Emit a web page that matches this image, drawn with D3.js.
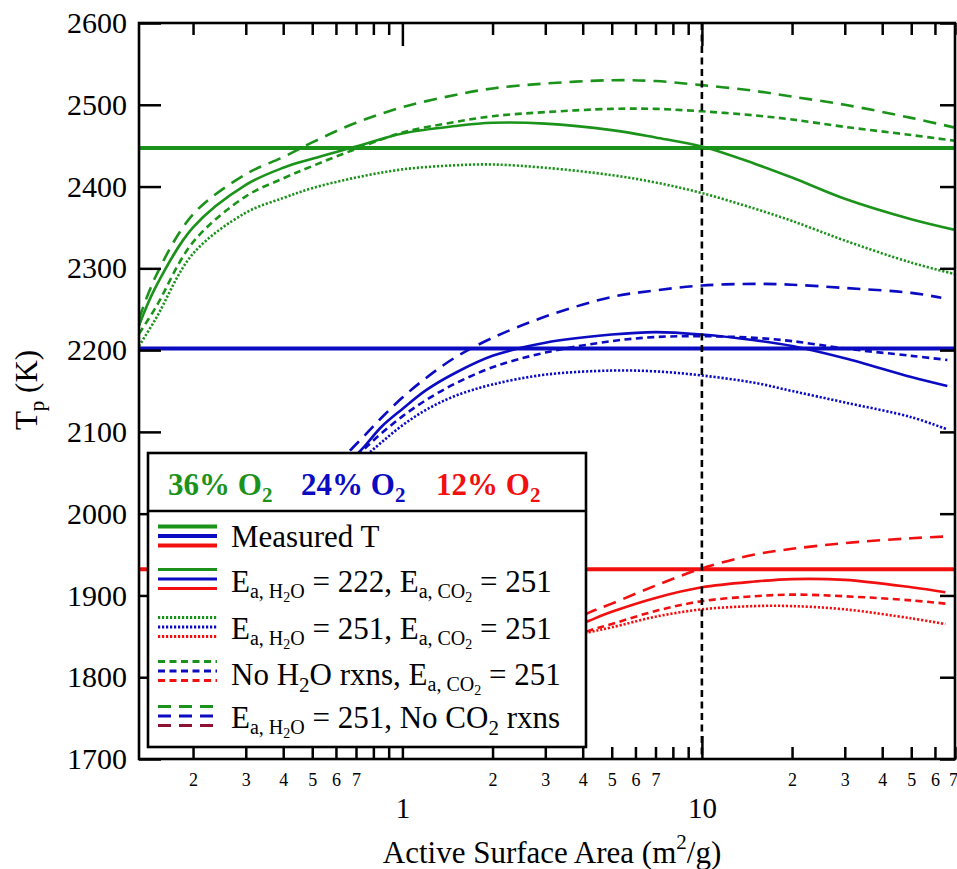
<!DOCTYPE html>
<html>
<head>
<meta charset="utf-8">
<script src="https://cdn.jsdelivr.net/npm/d3@7"></script>
<style>
  body { margin: 0; background: #fff; }
  svg { display: block; }
  text { white-space: pre; }
</style>
</head>
<body>
<svg id="chart" width="957" height="869"></svg>
<script>
// ---- Data: peak particle temperature vs. active surface area ----
// 36% O2
const greenX      = [0.132, 0.15, 0.2, 0.3, 0.4, 0.5, 0.7, 1, 1.5, 2, 3, 5, 7, 10, 15, 20, 30, 50, 70];
const green222    = [2230, 2277, 2350, 2402, 2423, 2434, 2449, 2465, 2474, 2478, 2477, 2469, 2460, 2449, 2428, 2411, 2385, 2360, 2347];
const green251    = [2205, 2238, 2318, 2368, 2386, 2398, 2411, 2421, 2426, 2427, 2423, 2414, 2405, 2392, 2373, 2358, 2334, 2307, 2293];
const greenNoH2O  = [2220, 2252, 2332, 2388, 2410, 2425, 2446, 2466, 2479, 2486, 2491, 2495, 2495, 2492, 2487, 2482, 2473, 2463, 2456];
const greenNoCO2  = [2238, 2290, 2366, 2415, 2436, 2454, 2478, 2497, 2512, 2520, 2526, 2530, 2529, 2524, 2517, 2510, 2500, 2484, 2472];
// 24% O2
const blueX       = [0.66, 0.75, 0.85, 1, 1.2, 1.5, 2, 3, 5, 7, 10, 15, 20, 30, 50, 66];
const blue222     = [2062, 2083, 2106, 2128, 2151, 2172, 2193, 2209, 2219, 2222, 2219, 2212, 2205, 2190, 2167, 2156];
const blue251     = [2054, 2070, 2087, 2108, 2127, 2144, 2158, 2170, 2175, 2174, 2169, 2160, 2150, 2136, 2118, 2103];
const blueNoH2O   = [2060, 2080, 2098, 2119, 2139, 2159, 2179, 2197, 2211, 2216, 2217, 2215, 2211, 2202, 2193, 2188];
const blueNoCO2X  = [0.6, 0.66, 0.75, 0.85, 1, 1.2, 1.5, 2, 3, 5, 7, 10, 15, 20, 30, 50, 63];
const blueNoCO2   = [2058, 2075, 2096, 2117, 2142, 2166, 2191, 2215, 2241, 2265, 2273, 2279, 2281, 2280, 2276, 2270, 2264];
// 12% O2
const redX        = [3.5, 4.2, 5, 7, 10, 15, 20, 30, 50, 65];
const red222      = [1857, 1869, 1880, 1897, 1910, 1917, 1920, 1919, 1910, 1904];
const red251      = [1847, 1855, 1861, 1874, 1883, 1887, 1887, 1883, 1872, 1865];
const redNoH2O    = [1845, 1857, 1865, 1881, 1893, 1899, 1901, 1899, 1894, 1890];
const redNoCO2    = [1866, 1879, 1890, 1912, 1933, 1950, 1957, 1964, 1970, 1972];
// Measured peak temperatures
const measuredT   = { green: 2447, blue: 2202, red: 1932 };
const referenceArea = 10;

// Axis ticks
const yTicks      = [1700, 1800, 1900, 2000, 2100, 2200, 2300, 2400, 2500, 2600];
const xMajor      = [1, 10];
const xMinor      = [0.2, 0.3, 0.4, 0.5, 0.6, 0.7, 0.8, 0.9, 2, 3, 4, 5, 6, 7, 8, 9, 20, 30, 40, 50, 60, 70];
const xMinorLabeled = [0.2, 0.3, 0.4, 0.5, 0.6, 0.7, 2, 3, 4, 5, 6, 7, 20, 30, 40, 50, 60, 70];

// ---- Styles ----
const FONT = "Liberation Serif, Tinos, Times New Roman, DejaVu Serif, serif";
const COLORS = { green: "#1b931b", blue: "#0b0bc2", red: "#f20f0f", darkred: "#8f1030" };
const DASH = { solid: null, dotted: "2.2,1.8", short: "7,4.5", long: "13,8" };

const W = 957, H = 869;
const plot = { left: 139, right: 955, top: 23, bottom: 759 };

const svg = d3.select("#chart").attr("font-family", FONT).style("font-family", FONT);
svg.append("rect").attr("width", W).attr("height", H).attr("fill", "#fff");

const x = d3.scaleLog().domain([0.132, 70]).range([plot.left, plot.right]);
const y = d3.scaleLinear().domain([1700, 2600]).range([plot.bottom, plot.top]);

svg.append("clipPath").attr("id", "plotClip")
  .append("rect")
  .attr("x", plot.left).attr("y", plot.top)
  .attr("width", plot.right - plot.left).attr("height", plot.bottom - plot.top);

const g = svg.append("g").attr("clip-path", "url(#plotClip)");

// Measured temperature lines
[["green", measuredT.green], ["blue", measuredT.blue], ["red", measuredT.red]].forEach(([c, v]) => {
  g.append("line")
    .attr("x1", plot.left).attr("x2", plot.right)
    .attr("y1", y(v)).attr("y2", y(v))
    .attr("stroke", COLORS[c]).attr("stroke-width", 4);
});

// Model curves
const line = d3.line().x(d => x(d[0])).y(d => y(d[1])).curve(d3.curveCatmullRom.alpha(0.5));
const series = [
  { xs: greenX, ys: green222,   color: COLORS.green, dash: DASH.solid },
  { xs: greenX, ys: green251,   color: COLORS.green, dash: DASH.dotted },
  { xs: greenX, ys: greenNoH2O, color: COLORS.green, dash: DASH.short },
  { xs: greenX, ys: greenNoCO2, color: COLORS.green, dash: DASH.long },
  { xs: blueX, ys: blue222,     color: COLORS.blue,  dash: DASH.solid },
  { xs: blueX, ys: blue251,     color: COLORS.blue,  dash: DASH.dotted },
  { xs: blueX, ys: blueNoH2O,   color: COLORS.blue,  dash: DASH.short },
  { xs: blueNoCO2X, ys: blueNoCO2, color: COLORS.blue, dash: DASH.long },
  { xs: redX, ys: red222,       color: COLORS.red,   dash: DASH.solid },
  { xs: redX, ys: red251,       color: COLORS.red,   dash: DASH.dotted },
  { xs: redX, ys: redNoH2O,     color: COLORS.red,   dash: DASH.short },
  { xs: redX, ys: redNoCO2,     color: COLORS.red,   dash: DASH.long }
];
series.forEach(s => {
  g.append("path")
    .datum(s.xs.map((v, i) => [v, s.ys[i]]))
    .attr("d", line)
    .attr("fill", "none")
    .attr("stroke", s.color)
    .attr("stroke-width", 2.6)
    .attr("stroke-dasharray", s.dash);
});

// Vertical reference line at 10 m^2/g
g.append("line")
  .attr("x1", x(referenceArea)).attr("x2", x(referenceArea))
  .attr("y1", plot.top).attr("y2", plot.bottom)
  .attr("stroke", "#000").attr("stroke-width", 2.6)
  .attr("stroke-dasharray", "7,4.5");

// ---- Axes ----
function styleAxis(sel) {
  sel.attr("font-family", FONT);
  sel.select(".domain").remove();
  sel.selectAll(".tick line").attr("stroke", "#000").attr("stroke-width", 2.5);
  sel.selectAll("text").attr("fill", "#000").attr("font-family", FONT).style("font-family", FONT);
}
const leadDigit = d => xMinorLabeled.includes(d) ? String(Math.round(d / Math.pow(10, Math.floor(Math.log10(d) + 1e-9)))) : "";

svg.append("g").attr("transform", `translate(0,${plot.bottom})`)
  .call(d3.axisBottom(x).tickValues(xMinor).tickSize(-12).tickPadding(14).tickFormat(leadDigit))
  .call(styleAxis)
  .selectAll("text").style("font-size", "18px")
  .attr("dx", d => d === 70 ? -2 : 0);
svg.append("g").attr("transform", `translate(0,${plot.bottom})`)
  .call(d3.axisBottom(x).tickValues(xMajor).tickSize(-23).tickPadding(38).tickFormat(d3.format("d")))
  .call(styleAxis)
  .selectAll("text").style("font-size", "29px");
svg.append("g").attr("transform", `translate(0,${plot.top})`)
  .call(d3.axisTop(x).tickValues(xMinor).tickSize(-12).tickFormat(""))
  .call(styleAxis);
svg.append("g").attr("transform", `translate(0,${plot.top})`)
  .call(d3.axisTop(x).tickValues(xMajor).tickSize(-23).tickFormat(""))
  .call(styleAxis);
svg.append("g").attr("transform", `translate(${plot.left},0)`)
  .call(d3.axisLeft(y).tickValues(yTicks).tickSize(-22).tickPadding(12).tickFormat(d3.format("d")))
  .call(styleAxis)
  .selectAll("text").style("font-size", "30px");
svg.append("g").attr("transform", `translate(${plot.right},0)`)
  .call(d3.axisRight(y).tickValues(yTicks).tickSize(-15).tickFormat(""))
  .call(styleAxis);

// Frame
svg.append("rect")
  .attr("x", plot.left).attr("y", plot.top)
  .attr("width", plot.right - plot.left).attr("height", plot.bottom - plot.top)
  .attr("fill", "none").attr("stroke", "#000").attr("stroke-width", 2.6);

// Text with sub/superscripts: parts = [text, size, offset below baseline]
function rich(parent, px, py, parts, attrs = {}) {
  const t = parent.append("text").attr("x", px).attr("y", py)
    .attr("font-family", FONT).style("font-family", FONT);
  Object.entries(attrs).forEach(([k, v]) => t.attr(k, v));
  let prev = 0;
  parts.forEach(([txt, size, off]) => {
    t.append("tspan").attr("font-size", size).attr("dy", off - prev).text(txt);
    prev = off;
  });
  return t;
}

// Axis titles
rich(svg, 0, 0, [["T", 31, 0], ["p", 21, 7], [" (K)", 31, 0]],
  { "text-anchor": "middle", transform: "translate(37,390) rotate(-90)" });
rich(svg, 552, 863, [["Active Surface Area (m", 31, 0], ["2", 21, -14], ["/g)", 31, 0]],
  { "text-anchor": "middle" });

// ---- Legend ----
const lg = svg.append("g");
const box = { x: 148, y: 453, w: 438, h: 294, div: 511 };
lg.append("rect").attr("x", box.x).attr("y", box.y).attr("width", box.w).attr("height", box.h)
  .attr("fill", "#fff").attr("stroke", "#000").attr("stroke-width", 2.6);
lg.append("line").attr("x1", box.x).attr("x2", box.x + box.w).attr("y1", box.div).attr("y2", box.div)
  .attr("stroke", "#000").attr("stroke-width", 2.6);

const headers = [["36% O", COLORS.green, 168], ["24% O", COLORS.blue, 301], ["12% O", COLORS.red, 436]];
headers.forEach(([label, c, hx]) => {
  rich(lg, hx, 495, [[label, 31, 0], ["2", 21, 7]], { fill: c, "font-weight": "bold" });
});

const legendRows = [
  { y: 536, dash: DASH.solid,  width: 4,   colors: [COLORS.green, COLORS.blue, COLORS.red],
    parts: [["Measured T", 31, 0]], base: 547 },
  { y: 579, dash: DASH.solid,  width: 3,   colors: [COLORS.green, COLORS.blue, COLORS.red],
    parts: [["E", 31, 0], ["a, H", 20, 6], ["2", 14, 10], ["O", 20, 6], [" = 222, E", 31, 0], ["a, CO", 20, 6], ["2", 14, 10], [" = 251", 31, 0]], base: 592 },
  { y: 627, dash: DASH.dotted, width: 3,   colors: [COLORS.green, COLORS.blue, COLORS.red],
    parts: [["E", 31, 0], ["a, H", 20, 6], ["2", 14, 10], ["O", 20, 6], [" = 251, E", 31, 0], ["a, CO", 20, 6], ["2", 14, 10], [" = 251", 31, 0]], base: 639 },
  { y: 671, dash: DASH.short,  width: 3,   colors: [COLORS.green, COLORS.blue, COLORS.red],
    parts: [["No H", 31, 0], ["2", 21, 7], ["O rxns, E", 31, 0], ["a, CO", 20, 6], ["2", 14, 10], [" = 251", 31, 0]], base: 685 },
  { y: 716, dash: DASH.long,   width: 3.2, colors: [COLORS.green, COLORS.blue, COLORS.darkred],
    parts: [["E", 31, 0], ["a, H", 20, 6], ["2", 14, 10], ["O", 20, 6], [" = 251, No CO", 31, 0], ["2", 21, 7], [" rxns", 31, 0]], base: 728 }
];
legendRows.forEach(r => {
  r.colors.forEach((c, i) => {
    lg.append("line")
      .attr("x1", 158).attr("x2", 217)
      .attr("y1", r.y + (i - 1) * 9.5).attr("y2", r.y + (i - 1) * 9.5)
      .attr("stroke", c).attr("stroke-width", r.width)
      .attr("stroke-dasharray", r.dash);
  });
  rich(lg, 231, r.base, r.parts, { fill: "#000" });
});
</script>
</body>
</html>
